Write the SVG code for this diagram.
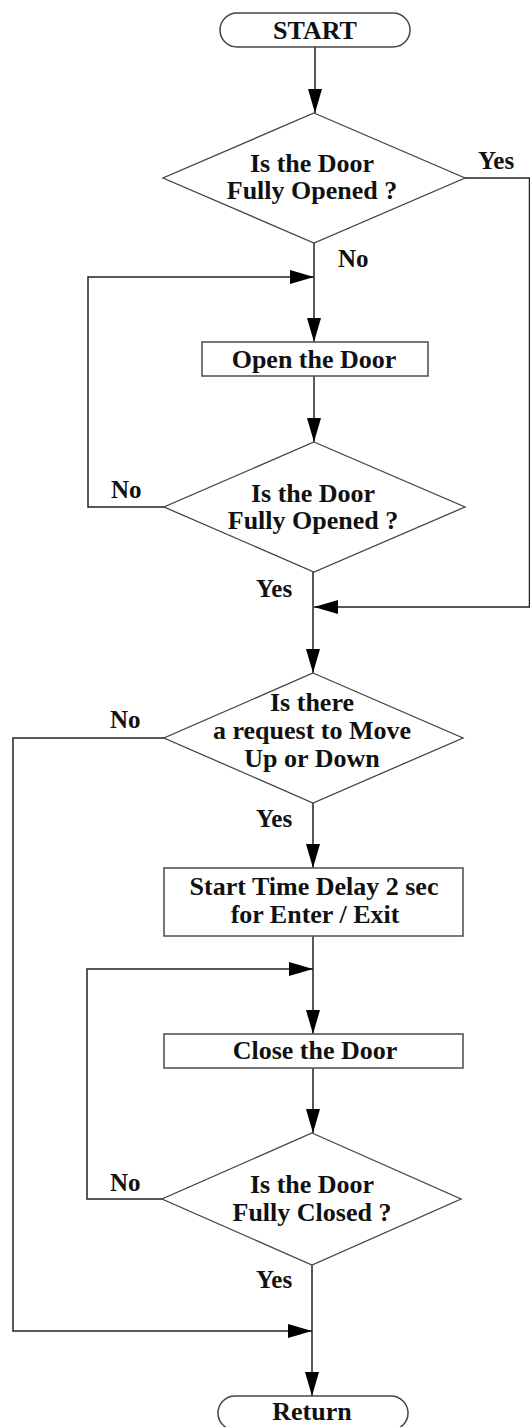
<svg xmlns="http://www.w3.org/2000/svg" width="530" height="1427" viewBox="0 0 530 1427">
<style>
.shape{fill:#fff;stroke:#444;stroke-width:1.3}
.box{fill:#fff;stroke:#555;stroke-width:1.6}
.term{fill:#fff;stroke:#444;stroke-width:1.5}
.conn{fill:none;stroke:#222;stroke-width:1.5}
.t{font-family:"Liberation Serif","Times New Roman",serif;font-weight:bold;font-size:26px;fill:#111;text-anchor:middle}
.lbl{font-family:"Liberation Serif","Times New Roman",serif;font-weight:bold;font-size:25px;fill:#111}
</style>
<defs>
<marker id="arr" markerUnits="userSpaceOnUse" markerWidth="24" markerHeight="14" refX="24" refY="7" orient="auto">
<path d="M0,0 L24,7 L0,14 z" fill="#000"/>
</marker>
</defs>
<rect width="530" height="1427" fill="#fff"/>
<g id="connectors">
<path class="conn" d="M315,47 V113" marker-end="url(#arr)"/>
<path class="conn" d="M464,178 H529.5 V607 H314" marker-end="url(#arr)"/>
<path class="conn" d="M314,243 V342" marker-end="url(#arr)"/>
<path class="conn" d="M164,507 H88 V277 H314" marker-end="url(#arr)"/>
<path class="conn" d="M314,376 V442" marker-end="url(#arr)"/>
<path class="conn" d="M313,572 V673" marker-end="url(#arr)"/>
<path class="conn" d="M313,803 V868" marker-end="url(#arr)"/>
<path class="conn" d="M165,738 H13 V1331 H312" marker-end="url(#arr)"/>
<path class="conn" d="M313,936 V1034" marker-end="url(#arr)"/>
<path class="conn" d="M162,1199 H87 V969 H313" marker-end="url(#arr)"/>
<path class="conn" d="M313,1068 V1133" marker-end="url(#arr)"/>
<path class="conn" d="M312,1265 V1396" marker-end="url(#arr)"/>
</g>
<g id="start">
<rect class="term" x="220" y="13" width="190" height="34" rx="17"/>
<text class="t" x="315" y="39">START</text>
</g>
<g id="d1">
<polygon class="shape" points="314,113 465,178 314,243 163,178"/>
<text class="t" x="312" y="172">Is the Door</text>
<text class="t" x="312" y="199">Fully Opened ?</text>
</g>
<g id="open">
<rect class="box" x="202" y="342" width="226" height="34"/>
<text class="t" x="314" y="368">Open the Door</text>
</g>
<g id="d2">
<polygon class="shape" points="314,442 465,507 314,572 164,507"/>
<text class="t" x="313" y="502">Is the Door</text>
<text class="t" x="313" y="529">Fully Opened ?</text>
</g>
<g id="d3">
<polygon class="shape" points="313,673 463,738 313,803 164,738"/>
<text class="t" x="312" y="711">Is there</text>
<text class="t" x="312" y="739">a request to Move</text>
<text class="t" x="312" y="767">Up or Down</text>
</g>
<g id="delay">
<rect class="box" x="164" y="868" width="299" height="68"/>
<text class="t" x="314" y="895">Start Time Delay 2 sec</text>
<text class="t" x="315" y="923">for Enter / Exit</text>
</g>
<g id="close">
<rect class="box" x="164" y="1034" width="299" height="34"/>
<text class="t" x="315" y="1059">Close the Door</text>
</g>
<g id="d4">
<polygon class="shape" points="312,1133 461,1199 312,1265 162,1199"/>
<text class="t" x="312" y="1193">Is the Door</text>
<text class="t" x="312" y="1221">Fully Closed ?</text>
</g>
<g id="return">
<rect class="term" x="218" y="1396" width="190" height="34" rx="17"/>
<text class="t" x="312" y="1420">Return</text>
</g>
<g id="labels">
<text class="lbl" x="478" y="169">Yes</text>
<text class="lbl" x="338" y="267">No</text>
<text class="lbl" x="111" y="498">No</text>
<text class="lbl" x="256" y="597">Yes</text>
<text class="lbl" x="110" y="728">No</text>
<text class="lbl" x="256" y="827">Yes</text>
<text class="lbl" x="110" y="1191">No</text>
<text class="lbl" x="256" y="1288">Yes</text>
</g>
</svg>
